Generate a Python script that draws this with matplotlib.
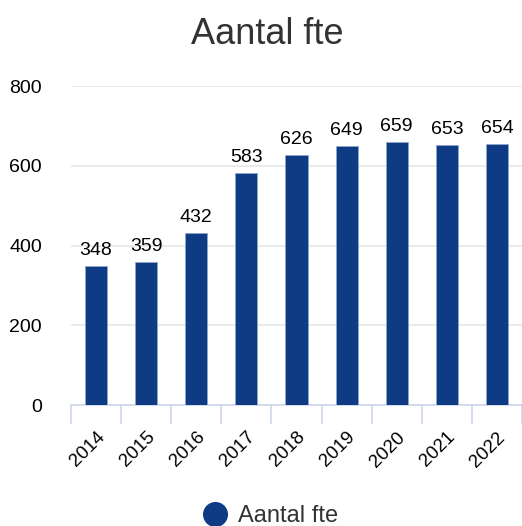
import matplotlib.pyplot as plt
import numpy as np

years = ["2014", "2015", "2016", "2017", "2018", "2019", "2020", "2021", "2022"]
fte = [348, 359, 432, 583, 626, 649, 659, 653, 654]
yticks = [0, 200, 400, 600, 800]

bar_color = "#0f3a84"
text_color = "#333333"
axis_color = "#ccd6eb"

plt.rcParams["font.family"] = ["Liberation Sans", "DejaVu Sans"]

fig = plt.figure(figsize=(5.22, 5.26), dpi=100)
ax = fig.add_axes([0.136, 0.230, 0.864, 0.6065])

x = np.arange(len(years))
bars = ax.bar(x, fte, width=0.44, color=bar_color, edgecolor="#8fa6cc", linewidth=0.6, zorder=3)

for xi, v in zip(x, fte):
    ax.annotate(str(v), (xi, v), xytext=(0, 5), textcoords="offset points",
                ha="center", va="bottom", fontsize=14, color="black")

ax.set_xlim(-0.5, len(years) - 0.5)
ax.set_ylim(0, 800)
ax.set_yticks(yticks)
ax.set_yticklabels([str(t) for t in yticks], fontsize=14, color="black")
ax.tick_params(axis="y", length=0, pad=21)
ax.grid(axis="y", color="#e6e6e6", linewidth=1.2, zorder=0)

ax.set_xticks(x)
ax.set_xticklabels(years, rotation=45, ha="right", va="top", rotation_mode="anchor",
                   fontsize=13.5, color="black")
ax.tick_params(axis="x", length=0, pad=17)
ax.set_xticks(np.arange(len(years) + 1) - 0.5, minor=True)
ax.tick_params(axis="x", which="minor", length=14, width=1.2, color=axis_color)

for s in ["top", "right", "left"]:
    ax.spines[s].set_visible(False)
ax.spines["bottom"].set_color(axis_color)
ax.spines["bottom"].set_linewidth(1.2)

fig.text(0.512, 0.935, "Aantal fte", ha="center", va="center", fontsize=26, color=text_color)

ax.legend([plt.Line2D([], [], marker="o", linestyle="", markersize=17, color=bar_color)],
          ["Aantal fte"], loc="center", bbox_to_anchor=(0.43, -0.348), frameon=False,
          fontsize=17, handletextpad=0.0, labelcolor=text_color)

plt.savefig("out.png", dpi=100)
